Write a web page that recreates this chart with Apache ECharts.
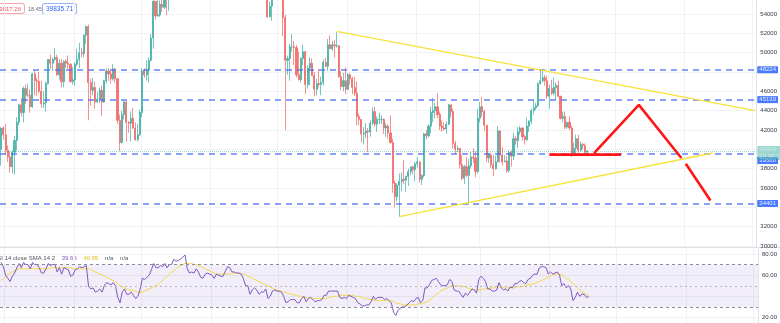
<!DOCTYPE html>
<html>
<head>
<meta charset="utf-8">
<script src="https://cdn.jsdelivr.net/npm/echarts@6/dist/echarts.min.js"></script>
<style>
html,body{margin:0;padding:0;background:#ffffff;}
#chart{width:780px;height:323px;}
</style>
</head>
<body>
<div id="chart"></div>
<script>
// Daily BTC candles, first session and number of daily slots on the time axis
const firstDay = '2021-07-30';
const dayCount = 338;

// [open, high, low, close]
const candles = [
[40000,42300,38300,42200],[42200,42400,41000,41500],[41500,42600,39400,39900],[39900,40400,38700,39200],[39200,39800,37600,38200],
[38200,39900,37500,39700],[39700,41400,37400,40900],[40900,43300,39900,42800],[42800,44700,42500,44600],[44600,45300,43400,43800],
[43800,46500,42800,46300],[46300,46700,44700,45600],[45600,46800,45400,45600],[45600,46200,43800,44400],[44400,47900,44300,47800],
[47800,48100,45600,47100],[47100,47400,45500,47000],[47000,48000,45800,46000],[46000,47100,44300,44700],[44700,46000,44300,44800],
[44800,47000,43900,46800],[46800,49300,46700,49300],[49300,49800,48300,48900],[48900,49500,48100,49300],[49300,50500,49100,49500],
[49500,49800,47600,47700],[47700,49300,47200,48900],[48900,49300,46400,47000],[47000,49200,46400,49100],[49100,49300,48400,48900],
[48900,49700,48300,48800],[48800,48900,46900,47000],[47000,48500,46700,47200],[47200,49000,46600,48800],[48800,50400,48600,49300],
[49300,51000,48400,50000],[50000,50500,49500,49900],[49900,51900,49500,51800],[51800,52800,50900,52700],[52700,52900,43000,46900],
[46900,47300,44500,46100],[46100,47400,45600,46400],[46400,47000,44200,44900],[44900,45900,44800,45200],[45200,46400,44800,46100],
[46100,46600,43400,44900],[44900,47200,44800,47100],[47100,48400,46800,48100],[48100,48400,47100,47800],[47800,48100,46800,47300],
[47300,48800,47100,48300],[48300,48400,46900,47300],[47300,47300,42600,43000],[43000,43600,39800,40700],[40700,44000,40600,43600],
[43600,45000,43100,44900],[44900,45000,40800,42800],[42800,42900,41700,42700],[42700,43900,40800,43200],[43200,44300,42100,42200],
[42200,42800,40900,41000],[41000,42600,40800,41500],[41500,44100,41400,43800],[43800,48400,43300,48100],[48100,48400,47400,47700],
[47700,49200,47100,48200],[48200,49500,46900,49200],[49200,51900,49100,51500],[51500,55700,50400,55300],[55300,55300,53400,53800],
[53800,56100,53700,53900],[53900,55400,53700,55000],[55000,56500,54200,54700],[54700,57800,54500,57500],[57500,57600,53900,56000],
[56000,57600,54300,57400],[57400,58500,56800,57300],[57300,62800,56900,61700],[61700,62300,60200,60900],[60900,61600,58900,61500],
[61500,62600,60000,62000],[62000,64400,61400,64300],[64300,67000,63500,66000],[66000,66600,62000,62200],[62200,63700,60000,60700],
[60700,61700,59800,61300],[61300,61500,59600,60900],[60900,63700,60700,63100],[63100,63300,59900,60300],[60300,61500,58000,58500],
[58500,62400,57800,60600],[60600,62900,60200,62300],[62300,62300,60700,61900],[61900,62400,60000,61300],[61300,62400,59400,61000],
[61000,64300,60700,63200],[63200,63500,60400,62900],[62900,63100,60700,61400],[61400,62600,60800,61000],[61000,61500,60100,61500],
[61500,63300,61400,63300],[63300,67800,63300,67600],[67600,68500,66400,66900],[66900,69000,63300,64900],[64900,65600,64100,64900],
[64900,65000,62300,64200],[64200,64900,63400,64400],[64400,65500,63600,65500],[65500,66300,63500,63600],[63600,63600,58600,60100],
[60100,61000,58400,60400],[60400,60900,56500,56900],[56900,58300,55600,58100],[58100,59800,57400,59700],[59700,60000,58500,58700],
[58700,59300,55600,56300],[56300,58000,55500,57600],[57600,57800,55900,57200],[57200,59400,57000,58900],[58900,59200,53600,53700],
[53700,55300,53700,54800],[54800,57400,53300,57300],[57300,58800,56800,57800],[57800,59200,56500,57000],[57000,59100,56500,57200],
[57200,57400,55800,56500],[56500,57600,51700,53600],[53600,53900,42000,49200],[49200,49700,47700,49400],[49400,50900,47100,50600],
[50600,51900,50100,50600],[50600,51200,48700,50500],[50500,50800,47400,47700],[47700,50100,47100,47200],[47200,49500,46900,49400],
[49400,50800,48700,50100],[50100,50200,45700,46700],[46700,48700,46300,48400],[48400,49500,46600,48900],[48900,49400,47600,47600],
[47600,48000,45500,46200],[46200,47300,45600,46800],[46800,48300,46400,46700],[46700,47500,45600,46900],[46900,49300,46600,49000],
[49000,49500,48500,48600],[48600,51400,48100,50800],[50800,51800,50400,50400],[50400,51200,50200,50800],[50800,51300,49500,50700],
[50700,52100,50500,50700],[50700,50800,47400,47500],[47500,48100,46100,46500],[46500,47900,46000,47100],[47100,48500,45700,46200],
[46200,47900,46200,47700],[47700,47900,46700,47300],[47300,47500,45700,46400],[46400,47500,45500,45800],[45800,47000,42500,43400],
[43400,43700,42500,43100],[43100,43100,40700,41600],[41600,42300,40500,41700],[41700,42700,41200,41900],[41900,42200,39700,41800],
[41800,43000,41300,42700],[42700,44300,42500,43900],[43900,44400,42300,42600],[42600,43400,41800,43100],[43100,43800,42600,43100],
[43100,43500,42600,43100],[43100,43200,41600,42200],[42200,42700,41300,42400],[42400,42600,41100,41700],[41700,43500,40600,40700],
[40700,41100,35500,36500],[36500,36800,34000,35100],[35100,36500,34600,36300],[36300,37500,33000,36700],[36700,37600,35700,36900],
[36900,38900,36400,36800],[36800,37200,35600,37200],[37200,38000,36200,37700],[37700,38200,37300,38200],[38200,38300,37400,37900],
[37900,38700,36700,38500],[38500,39200,38100,38700],[38700,38800,36600,36900],[36900,37400,36300,37300],[37300,41700,37100,41600],
[41600,42000,41000,41400],[41400,42600,41200,42400],[42400,44400,41700,43800],[43800,45300,42800,44000],[44000,44800,43200,44400],
[44400,45800,43200,43600],[43600,43900,42000,42400],[42400,43000,41800,42200],[42200,42800,41900,42100],[42100,42900,41600,42600],
[42600,44700,42500,44600],[44600,44600,43300,43900],[43900,44200,40100,40600],[40600,40900,39500,40000],[40000,40400,39700,40100],
[40100,40100,38000,38400],[38400,39400,36800,37000],[37000,38400,36400,38200],[38200,39200,37100,37300],[37300,39000,34300,38300],
[38300,39700,38000,39200],[39200,40100,38600,39100],[39100,39800,37100,37700],[37700,44200,37500,43200],[43200,44900,42800,44400],
[44400,45400,43400,43900],[43900,44100,41900,42500],[42500,42500,38700,39100],[39100,39600,38600,39400],[39400,39600,38100,38400],
[38400,39400,37200,38000],[38000,39300,37900,38700],[38700,42400,38700,41900],[41900,42000,38600,39400],[39400,40200,38300,38700],
[38700,39400,38700,38800],[38800,39300,37600,37800],[37800,39900,37600,39700],[39700,39900,38200,39300],[39300,41700,38900,41100],
[41100,41400,40500,40900],[40900,42300,40100,41800],[41800,42400,41500,42200],[42200,42300,40900,41300],[41300,41500,40500,41000],
[41000,43300,40900,42400],[42400,43000,41800,42900],[42900,44200,42600,44000],[44000,45100,43600,44300],[44300,44800,44100,44500],
[44500,46900,44400,46800],[46800,48200,46700,47100],[47100,48100,46900,47400],[47400,47700,46600,47100],[47100,47600,45200,45500],
[45500,46700,44200,46300],[46300,47200,45600,45800],[45800,47400,45600,46400],[46400,46900,45100,46600],[46600,47100,45400,45500],
[45500,45500,43100,43200],[43200,43900,42800,43400],[43400,43900,42100,42300],[42300,42800,42100,42800],[42800,43400,42000,42200],
[42200,42400,39200,39500],[39500,40700,39300,40100],[40100,41500,39600,41100],[41100,41500,39600,39900],[39900,40800,39800,40500],
[40500,40700,40000,40400],[40400,40600,39600,39700],[39700,39900,39500,39824]
];

// RSI(14) and its 14-period SMA, one value per session
const rsi = [
72,68,60,57,54,59,62,67,71,67, 72,70,70,66,72,70,70,67,62,62, 66,71,69,70,70,63,67,61,67,66,
65,59,60,65,66,68,67,68,69,49, 47,48,44,45,47,44,50,53,52,51, 53,50,39,34,44,47,42,42,44,41,
38,40,47,57,56,58,60,65,71,67, 67,69,68,71,67,70,70,75,73,74, 75,77,79,66,62,63,62,66,63,58,
57,61,62,61,60,57,61,60,59,59, 64,68,67,63,63,62,62,61,57,50, 50,42,46,48,46,42,44,44,47,38,
40,45,46,45,45,44,40,34,35,37, 37,37,34,34,38,40,35,38,39,37, 35,36,36,37,41,41,45,45,45,45,
45,39,38,39,38,41,40,39,38,34, 33,31,31,32,32,35,40,37,39,39, 39,37,38,36,34,25,22,27,29,30,
30,32,34,36,35,38,39,34,36,48, 48,51,55,56,57,54,51,50,50,51, 56,54,46,45,45,42,39,43,41,44,
47,46,43,56,59,57,54,47,47,45, 45,46,53,48,46,47,45,49,48,52, 52,54,55,53,52,56,57,60,61,61,
67,68,68,67,61,63,61,62,63,60, 50,52,48,50,47,36,39,44,40,42, 42,39,39.66
];
const rsiSma = [
55,57,59,61,62,63,64,65,66,66, 66,66,66,66,66,66,66,66,66,66, 66,66,67,67,67,67,67,67,67,67,
67,67,66,66,66,66,66,66,66,66, 65,64,63,62,61,60,59,58,57,56, 55,54,52,50,49,48,47,46,46,45,
45,44,44,44,45,46,47,48,49,50, 51,53,55,57,59,61,63,64,66,68, 69,70,71,71,71,71,70,70,69,68,
67,66,65,64,63,62,61,61,61,61, 61,61,61,62,62,62,62,61,61,60, 59,58,57,56,55,54,53,52,51,50,
49,48,47,46,45,45,44,44,43,42, 42,41,41,40,40,39,39,38,38,38, 38,38,38,38,38,38,39,39,40,40,
40,41,41,41,41,41,41,41,40,40, 40,39,38,38,37,37,37,36,36,36, 36,36,36,36,36,35,34,33,33,32,
32,32,32,32,32,32,33,33,33,34, 35,36,38,40,42,43,45,46,47,48, 49,50,50,50,50,50,49,49,48,47,
47,46,46,46,46,47,47,47,48,48, 48,49,49,49,48,48,48,48,48,48, 49,49,49,50,50,51,51,52,52,53,
54,55,56,57,58,59,60,61,61,61, 60,59,57,56,54,52,50,48,46,44, 43,42,40.95
];

// Horizontal price levels and current quote
const levels = [48224, 45139, 39560, 34401];
const lastPrice = 39824;
const countdown = '20:36:21';
const bidPrice = '39817.26';
const spread = '18.45';
const askPrice = '39835.71';

// Trend lines: [date, price] anchors
const upperTrend = [['2021-12-27', 52200], ['2022-07-02', 44000]];
const lowerTrend = [['2022-01-24', 33030], ['2022-06-13', 39620]];

// Projected path drawn in red
const supportLine = [['2022-04-01', 39450], ['2022-05-03', 39450]];
const pathUp = [['2022-04-21', 39600], ['2022-05-11', 44600], ['2022-05-30', 39100]];
const pathDown = [['2022-06-01', 38500], ['2022-06-12', 34700]];

// Axis ticks
const priceGrid = [30000,32000,34000,36000,38000,40000,42000,44000,46000,48000,50000,52000,54000];
const priceLabels = [30000,32000,36000,38000,42000,44000,46000,50000,52000,54000];
const rsiGrid = [20,40,60,80];
const rsiLabels = [20,60,80];

const dates = [];
(function () {
  const t0 = Date.parse(firstDay + 'T00:00:00Z');
  for (let i = 0; i < dayCount; i++) {
    dates.push(new Date(t0 + i * 86400000).toISOString().slice(0, 10));
  }
})();

const candleData = candles.map(c => [c[0], c[3], c[2], c[1]]);

const font = '"Liberation Sans", Arial, sans-serif';
const axisTextColor = '#333a45';
const gridColor = '#f1f2f5';
const levelColor = '#4a6cf5';

function levelLine(v, offsetY) {
  return {
    yAxis: v,
    lineStyle: { color: levelColor, type: [6, 5], width: 1.6, opacity: 0.85 },
    label: {
      show: true, position: 'end', distance: 1, formatter: String(v),
      backgroundColor: '#2962ff', color: '#ffffff', fontSize: 6, fontFamily: font,
      padding: [1, 2, 0, 2], offset: [0, offsetY || 0]
    }
  };
}

const chart = echarts.init(document.getElementById('chart'), null, { renderer: 'canvas' });

const monthStart = (i, v) => typeof v === 'string' && v.slice(8) === '01';

chart.setOption({
  animation: false,
  backgroundColor: '#ffffff',
  grid: [
    { left: -1, right: 19, top: 0, height: 247 },
    { left: -1, right: 19, top: 248, height: 75 }
  ],
  xAxis: [0, 1].map(g => ({
    type: 'category', gridIndex: g, data: dates, boundaryGap: true,
    axisLine: { show: false }, axisTick: { show: false }, axisLabel: { show: false },
    splitLine: { show: true, interval: monthStart, lineStyle: { color: gridColor, width: 1 } }
  })),
  yAxis: [
    {
      type: 'value', gridIndex: 0, position: 'right', min: 29900, max: 55440, scale: true,
      axisLine: { show: true, lineStyle: { color: '#e3e5ea' } },
      axisTick: { show: false, customValues: priceGrid },
      axisLabel: { customValues: priceLabels, fontSize: 6, color: axisTextColor, margin: 4, fontFamily: font,
        formatter: v => String(v) },
      splitLine: { show: true, lineStyle: { color: gridColor } }
    },
    {
      type: 'value', gridIndex: 1, position: 'right', min: 14.9, max: 85.6,
      axisLine: { show: true, lineStyle: { color: '#e3e5ea' } },
      axisTick: { show: false, customValues: rsiGrid },
      axisLabel: { customValues: rsiLabels, fontSize: 6, color: axisTextColor, margin: 4, fontFamily: font,
        formatter: v => v.toFixed(2) },
      splitLine: { show: true, lineStyle: { color: gridColor } }
    }
  ],
  series: [
    {
      type: 'candlestick', xAxisIndex: 0, yAxisIndex: 0, data: candleData, barWidth: 1.6,
      itemStyle: { color: '#26a69a', color0: '#ef5350', borderColor: '#26a69a', borderColor0: '#ef5350', borderWidth: 0.8, opacity: 0.8 },
      markLine: {
        silent: true, symbol: 'none', animation: false,
        data: [
          levelLine(levels[0]), levelLine(levels[1]), levelLine(levels[2], 7), levelLine(levels[3]),
          {
            yAxis: lastPrice,
            lineStyle: { color: '#26a69a', type: 'dotted', width: 1, opacity: 0.45 },
            label: { show: true, position: 'end', distance: 1, formatter: lastPrice + '\n' + countdown,
              backgroundColor: '#26a69a', color: '#ffffff', fontSize: 6, lineHeight: 6.5, fontFamily: font,
              padding: [1, 2, 0, 2], offset: [0, 2] }
          },
          [
            { coord: upperTrend[0], lineStyle: { color: '#f7e23a', width: 1.3, type: 'solid' }, label: { show: false } },
            { coord: upperTrend[1] }
          ],
          [
            { coord: lowerTrend[0], lineStyle: { color: '#f7e23a', width: 1.3, type: 'solid' }, label: { show: false } },
            { coord: lowerTrend[1] }
          ]
        ]
      }
    },
    ...[supportLine, pathUp, pathDown].map(d => ({
      type: 'line', xAxisIndex: 0, yAxisIndex: 0, data: d, symbol: 'none', z: 5,
      lineStyle: { color: '#ff1616', width: 2.6 }
    })),
    {
      type: 'line', xAxisIndex: 1, yAxisIndex: 1, data: rsiSma, symbol: 'none', z: 3,
      lineStyle: { color: '#f4d84b', width: 1 },
      markLine: {
        silent: true, symbol: 'none',
        data: [{ yAxis: rsiSma[rsiSma.length - 1], lineStyle: { opacity: 0 },
          label: { show: true, position: 'end', distance: 1, formatter: rsiSma[rsiSma.length - 1].toFixed(2),
            backgroundColor: '#ffeb3b', color: '#333333', fontSize: 6, fontFamily: font, padding: [1, 2, 0, 2], offset: [0, -3] } }]
      }
    },
    {
      type: 'line', xAxisIndex: 1, yAxisIndex: 1, data: rsi, symbol: 'none', z: 4,
      lineStyle: { color: '#7e57c2', width: 1 },
      markArea: {
        silent: true, itemStyle: { color: 'rgba(126,87,194,0.1)' },
        data: [[{ yAxis: 30 }, { yAxis: 70 }]]
      },
      markLine: {
        silent: true, symbol: 'none',
        data: [
          { yAxis: 70, lineStyle: { color: '#8a8d96', type: [3, 3], width: 1 }, label: { show: false } },
          { yAxis: 50, lineStyle: { color: '#b5b7be', type: [2, 3], width: 1 }, label: { show: false } },
          { yAxis: 30, lineStyle: { color: '#8a8d96', type: [3, 3], width: 1 }, label: { show: false } },
          { yAxis: rsi[rsi.length - 1], lineStyle: { opacity: 0 },
            label: { show: true, position: 'end', distance: 1, formatter: rsi[rsi.length - 1].toFixed(2),
              backgroundColor: '#7e57c2', color: '#ffffff', fontSize: 6, fontFamily: font, padding: [1, 2, 0, 2], offset: [0, 3] } }
        ]
      }
    }
  ],
  graphic: [
    { type: 'line', shape: { x1: 0, y1: 247.5, x2: 780, y2: 247.5 }, style: { stroke: '#dfe1e6', lineWidth: 1 }, silent: true },
    { type: 'text', x: -7, y: 4, style: { text: bidPrice, fill: '#f7525f', font: '6px ' + font,
        backgroundColor: '#ffffff', borderColor: '#f5a3aa', borderWidth: 1, borderRadius: 2, padding: [2, 3, 1, 3] } },
    { type: 'text', x: 28, y: 6, style: { text: spread, fill: '#6a6d78', font: '5.5px ' + font } },
    { type: 'text', x: 43, y: 4, style: { text: askPrice, fill: '#2962ff', font: '6.5px ' + font,
        backgroundColor: '#ffffff', borderColor: '#9db2f7', borderWidth: 1, borderRadius: 2, padding: [2, 3, 1, 3] } },
    { type: 'text', x: -7, y: 252, style: {
        text: '{a|RSI 14 close SMA 14 2}  {b|' + rsi[rsi.length - 1].toFixed(2) + '}  {c|' + rsiSma[rsiSma.length - 1].toFixed(2) + '}  {a|n/a}  {a|n/a}',
        rich: {
          a: { fill: '#50535e', fontSize: 6, fontFamily: font },
          b: { fill: '#7e57c2', fontSize: 6, fontFamily: font },
          c: { fill: '#e3c01a', fontSize: 6, fontFamily: font }
        } } }
  ]
});
</script>
</body>
</html>
